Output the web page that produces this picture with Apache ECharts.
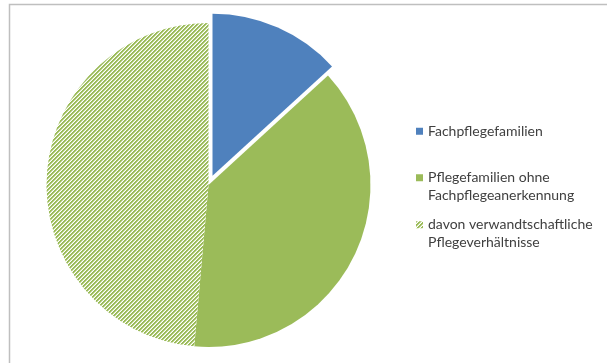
<!DOCTYPE html>
<html>
<head>
<meta charset="utf-8">
<script src="https://cdn.jsdelivr.net/npm/echarts@6/dist/echarts.min.js"></script>
<style>
html,body{margin:0;padding:0;background:#fff;}
#chart{width:607px;height:363px;}
</style>
</head>
<body>
<div id="chart"></div>
<script>
// Anteile der Pflegeverhältnisse (Prozent)
const categories = [
  'Fachpflegefamilien',
  'Pflegefamilien ohne\nFachpflegeanerkennung',
  'davon verwandtschaftliche\nPflegeverhältnisse'
];
const shares = [13.2, 38.2, 48.6];

const BLUE = '#4F81BD';
const GREEN = '#9BBB59';

// diagonal "/" stripes for the hatched slice
function stripePattern() {
  const c = document.createElement('canvas');
  c.width = 4; c.height = 4;
  const ctx = c.getContext('2d');
  ctx.fillStyle = '#ffffff';
  ctx.fillRect(0, 0, 4, 4);
  for (let y = 0; y < 4; y++) {
    for (let x = 0; x < 4; x++) {
      const k = (x + y) % 4;
      if (k === 0 || k === 1) { ctx.fillStyle = GREEN; ctx.fillRect(x, y, 1, 1); }
      else if (k === 2) { ctx.fillStyle = '#CFE0AE'; ctx.fillRect(x, y, 1, 1); }
    }
  }
  return c;
}
const hatch = { image: stripePattern(), repeat: 'repeat' };

const colors = [BLUE, GREEN, hatch];

const chart = echarts.init(document.getElementById('chart'), null, { renderer: 'canvas' });

const LINE_H = 17.5;

const legendBase = {
  orient: 'vertical',
  left: 411,
  icon: 'rect',
  itemWidth: 7,
  itemHeight: 7,
  itemGap: 0,
  selectedMode: false,
  textStyle: {
    fontFamily: 'Lato, "Open Sans", sans-serif',
    fontSize: 14,
    color: '#404040',
    lineHeight: LINE_H
  }
};

// two-line entries: a tall marker box whose square sits beside the first line
const sq = (LINE_H - 7) / 2;
const twoLine = {
  icon: 'path://M0,0M0,' + sq + 'h7v7h-7zM7,' + (2 * LINE_H),
  itemWidth: 7,
  itemHeight: 2 * LINE_H
};

chart.setOption({
  animation: false,
  backgroundColor: '#ffffff',
  graphic: [{
    type: 'polyline',
    shape: { points: [[9.5, 400], [9.5, 4.5], [700, 4.5]] },
    style: { stroke: '#BFBFBF', lineWidth: 1.5, fill: null },
    silent: true
  }],
  legend: [
    Object.assign({}, legendBase, { top: 117.5, data: [categories[0]] }),
    Object.assign({}, legendBase, twoLine, { top: 164, data: [categories[1]] }),
    Object.assign({}, legendBase, twoLine, { top: 211, data: [categories[2]] })
  ],
  series: [{
    type: 'pie',
    center: [208.5, 185],
    radius: 162,
    startAngle: 90,
    clockwise: true,
    selectedMode: 'multiple',
    selectedOffset: 10,
    label: { show: false },
    labelLine: { show: false },
    emphasis: { disabled: true, scale: false },
    itemStyle: { borderWidth: 0 },
    data: categories.map((name, i) => ({
      name: name,
      value: shares[i],
      selected: i === 0,
      itemStyle: { color: colors[i], borderWidth: 0 },
      select: { itemStyle: { color: colors[i], borderWidth: 0 } }
    }))
  }]
});
</script>
</body>
</html>
